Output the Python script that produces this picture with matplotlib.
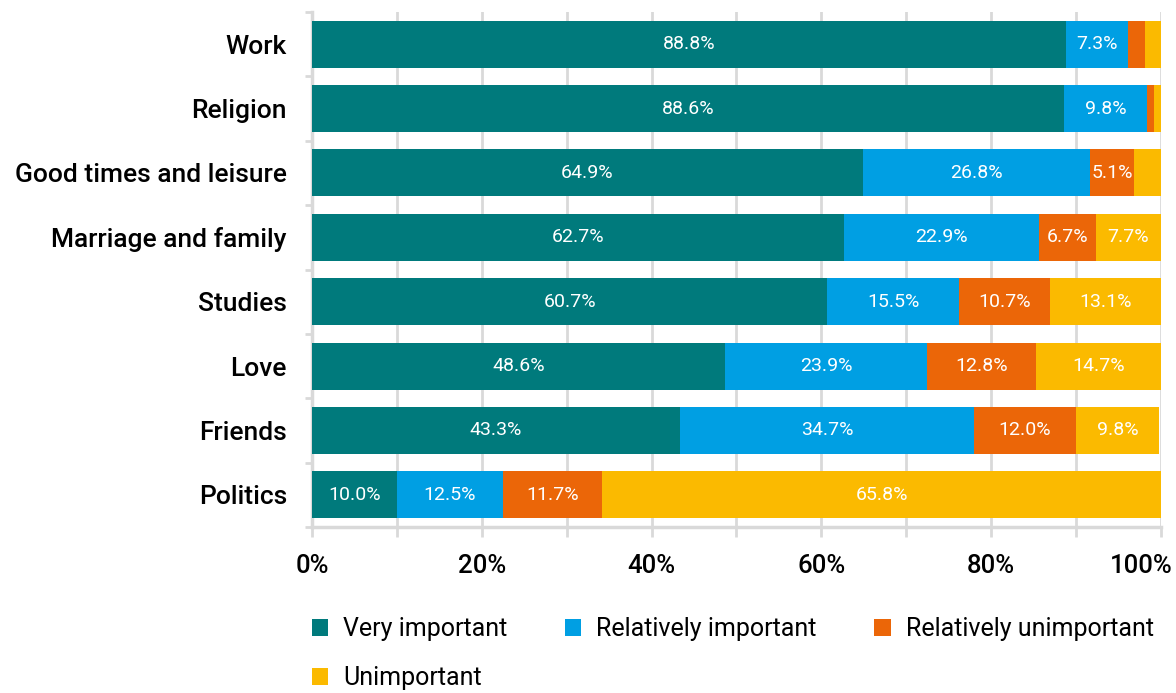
import matplotlib
matplotlib.use("Agg")
import matplotlib.pyplot as plt
from matplotlib.transforms import ScaledTranslation
import numpy as np

# categories, top to bottom
topics = ["Work", "Religion", "Good times and leisure", "Marriage and family",
          "Studies", "Love", "Friends", "Politics"]

very_important = [88.8, 88.6, 64.9, 62.7, 60.7, 48.6, 43.3, 10.0]
rel_important = [7.3, 9.8, 26.8, 22.9, 15.5, 23.9, 34.7, 12.5]
rel_unimportant = [2.0, 0.8, 5.1, 6.7, 10.7, 12.8, 12.0, 11.7]
unimportant = [1.9, 0.8, 3.2, 7.7, 13.1, 14.7, 9.8, 65.8]

series_names = ["Very important", "Relatively important",
                "Relatively unimportant", "Unimportant"]
colors = ["#007a7c", "#009fe3", "#eb6608", "#fbba00"]

x_ticks = [0, 10, 20, 30, 40, 50, 60, 70, 80, 90, 100]
x_labels = ["0%", "", "20%", "", "40%", "", "60%", "", "80%", "", "100%"]

GRID = "#d9d9d9"
plt.rcParams['font.family'] = ['Roboto', 'DejaVu Sans']

fig = plt.figure(figsize=(11.76, 6.93), dpi=100)
ax = fig.add_axes([0.2653, 0.2395, 0.7219, 0.7432])

ypos = np.arange(len(topics))[::-1]
series = [very_important, rel_important, rel_unimportant, unimportant]
left = np.zeros(len(topics))
bars = []
for vals, name, col in zip(series, series_names, colors):
    vals = np.array(vals)
    b = ax.barh(ypos, vals, left=left, height=0.73, color=col, label=name, zorder=3)
    bars.append(b)
    for y, l, v in zip(ypos, left, vals):
        if v >= 5:
            ax.text(l + v / 2, y, f"{v:.1f}%", ha="center", va="center",
                    color="white", fontsize=14, fontweight="normal", zorder=4)
    left += vals

ax.set_xlim(0, 100)
ax.set_ylim(-0.5, 7.5)

# x axis: grid every 10%, labels every 20%
ax.set_xticks(x_ticks)
ax.set_xticklabels(x_labels, fontsize=18.5, fontweight="medium")
ax.tick_params(axis="x", length=7.5, width=2, color=GRID, pad=12)
last = ax.get_xticklabels()[-1]
last.set_transform(last.get_transform() + ScaledTranslation(-20 / 100, 0, fig.dpi_scale_trans))

# y axis: labels at centres, small ticks at category boundaries
ax.set_yticks(ypos)
ax.set_yticklabels(topics, fontsize=19, fontweight="medium")
ax.set_yticks(np.arange(-0.5, len(topics), 1.0), minor=True)
ax.tick_params(axis="y", which="major", length=0, pad=18)
ax.tick_params(axis="y", which="minor", length=5, width=2, color=GRID)

ax.grid(axis="x", color=GRID, linewidth=2, zorder=0)
for s in ["top", "right"]:
    ax.spines[s].set_visible(False)
for s in ["bottom", "left"]:
    ax.spines[s].set_color(GRID)
    ax.spines[s].set_linewidth(2.5)

# legend laid out row by row
order = [0, 3, 1, 2]
handles = [bars[i] for i in order]
labels = [series_names[i] for i in order]
fig.legend(handles, labels, loc="upper left", bbox_to_anchor=(0.257, 0.124),
           ncol=3, frameon=False, fontsize=18, handlelength=0.65, handleheight=0.65,
           handletextpad=0.6, columnspacing=2.3, labelspacing=1.0,
           borderaxespad=0)

fig.savefig("out.png", dpi=100)
